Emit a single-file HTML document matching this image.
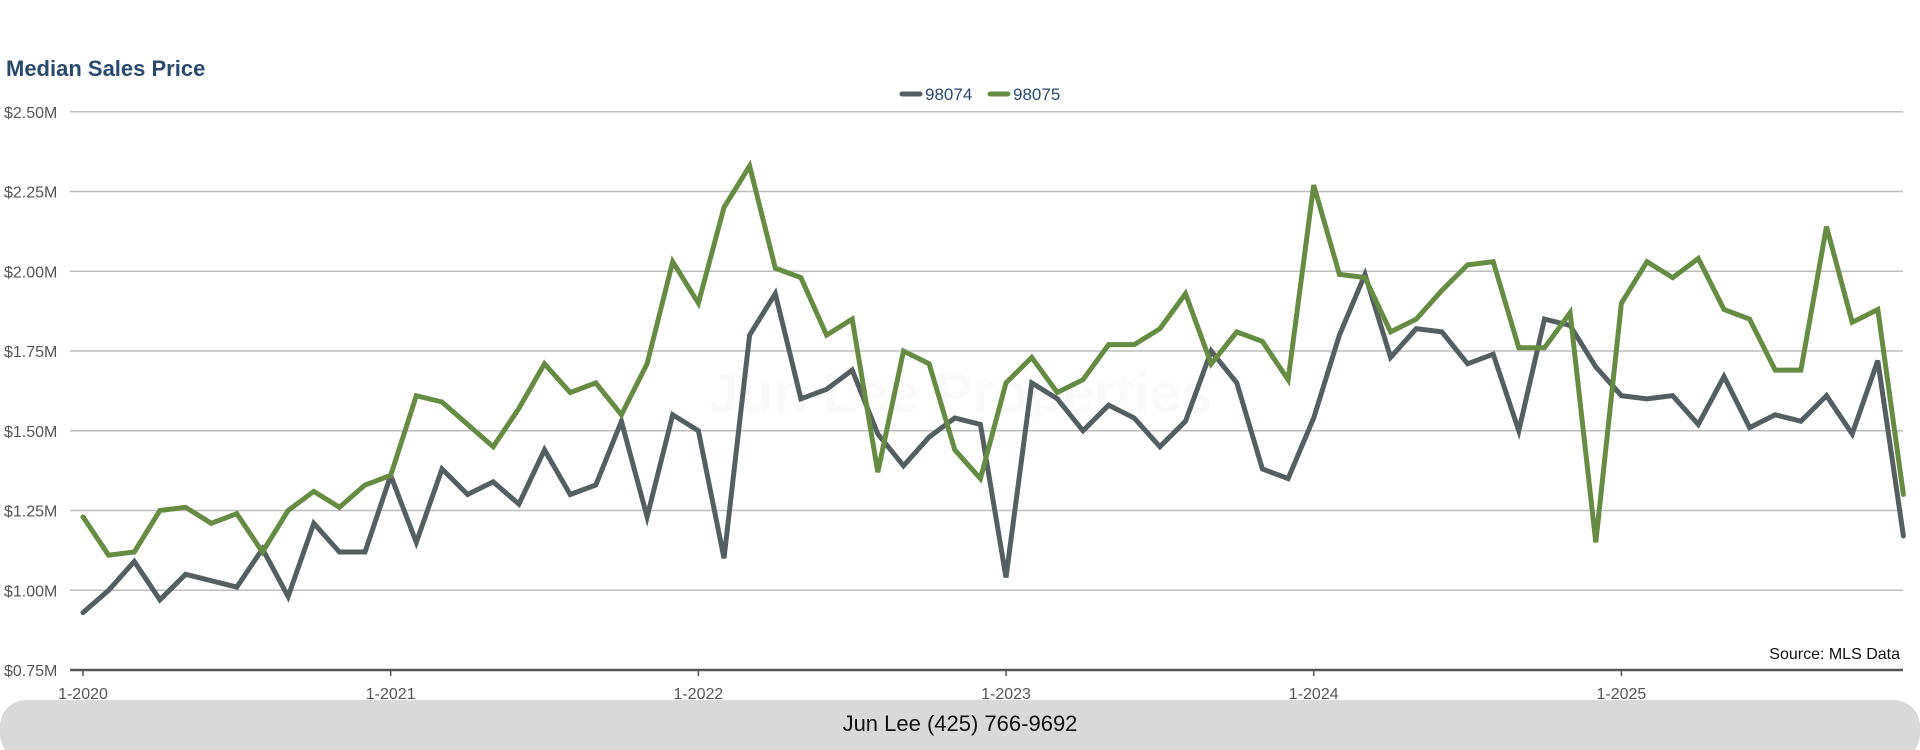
<!DOCTYPE html>
<html><head><meta charset="utf-8"><style>
html,body{margin:0;padding:0;background:#fff;width:1920px;height:750px;overflow:hidden;font-family:"Liberation Sans",sans-serif}
</style></head><body>
<svg id="chart" width="1920" height="750" xmlns="http://www.w3.org/2000/svg">
<text x="6" y="76" font-size="22" font-weight="bold" fill="#2a4a6b" font-family="Liberation Sans, sans-serif">Median Sales Price</text>
<g>
<g><line x1="902" y1="94" x2="920" y2="94" stroke="#555f61" stroke-width="5" stroke-linecap="round"/><text x="925" y="100" font-size="17" fill="#2a4a6b">98074</text></g>
<g><line x1="990" y1="94" x2="1008" y2="94" stroke="#668c44" stroke-width="5" stroke-linecap="round"/><text x="1013" y="100" font-size="17" fill="#2a4a6b">98075</text></g>
</g>
<text x="960" y="412" text-anchor="middle" font-size="56" font-weight="bold" fill="#000" fill-opacity="0.02">Jun Lee Properties</text>
<g id="grid"></g><g id="yticks"></g><g id="xticks"></g><g id="series"></g>
<rect x="0" y="700" width="1920" height="60" rx="26" fill="#d9d9d9"/>
<text x="960" y="731" text-anchor="middle" font-size="22" fill="#111">Jun Lee (425) 766-9692</text>
<text x="1900" y="659" text-anchor="end" font-size="16" fill="#111">Source: MLS Data</text>
<g id="xlabels"></g>
</svg>
<script>
const yTicks=[0.75,1.00,1.25,1.50,1.75,2.00,2.25,2.50];
const yTickLabels=["$0.75M","$1.00M","$1.25M","$1.50M","$1.75M","$2.00M","$2.25M","$2.50M"];
const xTickIdx=[0,12,24,36,48,60];
const xTickLabels=["1-2020","1-2021","1-2022","1-2023","1-2024","1-2025"];
const series98074=[0.93,1.00,1.09,0.97,1.05,1.03,1.01,1.13,0.98,1.21,1.12,1.12,1.36,1.15,1.38,1.30,1.34,1.27,1.44,1.30,1.33,1.53,1.23,1.55,1.50,1.10,1.80,1.93,1.60,1.63,1.69,1.49,1.39,1.48,1.54,1.52,1.04,1.65,1.60,1.50,1.58,1.54,1.45,1.53,1.75,1.65,1.38,1.35,1.54,1.80,1.99,1.73,1.82,1.81,1.71,1.74,1.50,1.85,1.83,1.70,1.61,1.60,1.61,1.52,1.67,1.51,1.55,1.53,1.61,1.49,1.72,1.17];
const series98075=[1.23,1.11,1.12,1.25,1.26,1.21,1.24,1.12,1.25,1.31,1.26,1.33,1.36,1.61,1.59,1.52,1.45,1.57,1.71,1.62,1.65,1.55,1.71,2.03,1.90,2.20,2.33,2.01,1.98,1.80,1.85,1.37,1.75,1.71,1.44,1.35,1.65,1.73,1.62,1.66,1.77,1.77,1.82,1.93,1.71,1.81,1.78,1.66,2.27,1.99,1.98,1.81,1.85,1.94,2.02,2.03,1.76,1.76,1.87,1.15,1.90,2.03,1.98,2.04,1.88,1.85,1.69,1.69,2.14,1.84,1.88,1.30];
const NS="http://www.w3.org/2000/svg";
const X0=83,DX=25.64,YB=670,Y_MIN=0.75,PXPER=319;
function xs(i){return X0+i*DX;}
function ys(v){return YB-(v-Y_MIN)*PXPER;}
function mk(tag,attrs,parent){const e=document.createElementNS(NS,tag);for(const k in attrs)e.setAttribute(k,attrs[k]);parent.appendChild(e);return e;}
const grid=document.getElementById('grid'),yt=document.getElementById('yticks'),xt=document.getElementById('xticks'),xl=document.getElementById('xlabels'),sg=document.getElementById('series');
yTicks.forEach((v,i)=>{
  if(i>0){const l=mk('line',{x1:70,x2:1903,y1:ys(v),y2:ys(v),stroke:'#bdbdbd','stroke-width':1.5},grid);
  
  }
  const t=mk('text',{x:4,y:ys(v)+6,'font-size':16,fill:'#555'},yt);t.textContent=yTickLabels[i];
  
  
});
const ax=mk('line',{x1:70,x2:1903,y1:YB,y2:YB,stroke:'#555','stroke-width':2.5},grid);


xTickIdx.forEach((idx,i)=>{
  const tk=mk('line',{x1:xs(idx),x2:xs(idx),y1:YB,y2:YB+6,stroke:'#555','stroke-width':1.5},xt);
  
  
  const t=mk('text',{x:xs(idx),y:699,'font-size':16,fill:'#555','text-anchor':'middle'},xl);t.textContent=xTickLabels[i];
  
  
});
function drawLine(arr,color,name){
  const p=mk('polyline',{points:arr.map((v,i)=>xs(i).toFixed(1)+','+ys(v).toFixed(1)).join(' '),fill:'none',stroke:color,'stroke-width':5,'stroke-linejoin':'miter','stroke-linecap':'round'},sg);
  
  
}
drawLine(series98074,'#555f61','line-98074');
drawLine(series98075,'#668c44','line-98075');
</script>
</body></html>
